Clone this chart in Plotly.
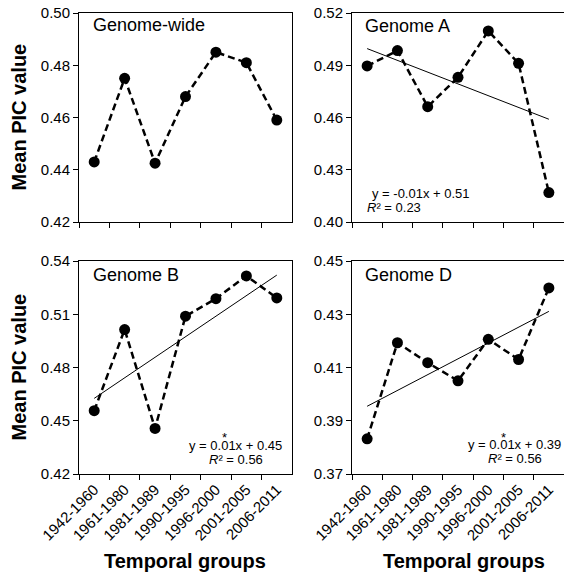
import numpy as np
import plotly.graph_objects as go

# ---- data ----
categories = ["1942-1960", "1961-1980", "1981-1989", "1990-1995",
              "1996-2000", "2001-2005", "2006-2011"]
genome_wide = [0.443, 0.475, 0.4425, 0.468, 0.485, 0.481, 0.459]
genome_a = [0.4896, 0.4984, 0.4662, 0.4831, 0.5097, 0.4911, 0.4169]
genome_b = [0.4557, 0.5014, 0.4457, 0.5089, 0.5188, 0.5316, 0.5192]
genome_d = [0.3832, 0.4193, 0.4118, 0.4050, 0.4206, 0.4130, 0.4399]

panel_titles = ["Genome-wide", "Genome A", "Genome B", "Genome D"]
y_ticks_wide = [0.42, 0.44, 0.46, 0.48, 0.50]
y_ticks_a = [0.40, 0.43, 0.46, 0.49, 0.52]
y_ticks_b = [0.42, 0.45, 0.48, 0.51, 0.54]
y_ticks_d = [0.37, 0.39, 0.41, 0.43, 0.45]
eq_a = ["y = -0.01x + 0.51", "<i>R</i>² = 0.23"]
eq_b = ["y = 0.01x + 0.45", "<i>R</i>² = 0.56"]
eq_d = ["y = 0.01x + 0.39", "<i>R</i>² = 0.56"]
y_title = "Mean PIC value"
x_title = "Temporal groups"

W, H = 564, 575
FONT = "Arial, Liberation Sans, Helvetica, sans-serif"

def px_x(p):
    return p / W

def px_y(p):
    return 1 - p / H

# panel pixel boxes: (left, right, top, bottom)
boxes = [(79, 292, 13, 222), (352, 564, 13, 222),
         (79, 292, 261, 474), (352, 564, 261, 474)]
series = [genome_wide, genome_a, genome_b, genome_d]
yticks = [y_ticks_wide, y_ticks_a, y_ticks_b, y_ticks_d]
trend = [False, True, True, True]

fig = go.Figure()
layout = dict(width=W, height=H,
              margin=dict(l=0, r=0, t=0, b=0, pad=0, autoexpand=False),
              paper_bgcolor="white", plot_bgcolor="white", showlegend=False,
              hovermode=False,
              font=dict(family=FONT, color="#000"))

xi = np.arange(1, len(categories) + 1)
for i, (vals, box, tv, tr) in enumerate(zip(series, boxes, yticks, trend)):
    n = "" if i == 0 else str(i + 1)
    xa, ya = "x" + n, "y" + n
    l, r, t, b = box
    layout["xaxis" + n] = dict(
        type="category", domain=[px_x(l), min(px_x(r), 1.0)], anchor=ya,
        range=[-0.5, len(categories) - 0.5], tickson="boundaries",
        ticks="outside", ticklen=5, tickcolor="black", tickwidth=1,
        showline=True, linecolor="black", linewidth=1, mirror=True,
        showgrid=False, zeroline=False, tickangle=-45, automargin=False,
        showticklabels=(i >= 2),
        tickfont=dict(size=15, family=FONT, color="#000"))
    layout["yaxis" + n] = dict(
        domain=[px_y(b), px_y(t)], anchor=xa, range=[tv[0], tv[-1]],
        tickvals=tv, ticktext=[f"{v:.2f}" for v in tv],
        ticks="outside", ticklen=5, tickcolor="black", tickwidth=1,
        showline=True, linecolor="black", linewidth=1, mirror=True,
        showgrid=False, zeroline=False, automargin=False,
        tickfont=dict(size=15, family=FONT, color="#000"))
    fig.add_trace(go.Scatter(
        x=categories, y=vals, xaxis=xa, yaxis=ya, mode="lines+markers",
        line=dict(color="black", width=2.5, dash="7px,4px"),
        marker=dict(color="black", size=11), hoverinfo="skip", cliponaxis=False))
    if tr:
        slope, inter = np.polyfit(xi, vals, 1)
        fig.add_trace(go.Scatter(
            x=[categories[0], categories[-1]],
            y=[slope * xi[0] + inter, slope * xi[-1] + inter],
            xaxis=xa, yaxis=ya, mode="lines",
            line=dict(color="black", width=1), hoverinfo="skip"))

ann = []
def text(x, y, s, size, xanchor="left", bold=False, angle=0):
    ann.append(dict(xref="paper", yref="paper", x=px_x(x), y=px_y(y),
                    text=("<b>%s</b>" % s) if bold else s, showarrow=False,
                    xanchor=xanchor, yanchor="middle", textangle=angle,
                    font=dict(size=size, family=FONT, color="#000")))

# panel titles
text(91, 25, panel_titles[0], 18)
text(363, 26, panel_titles[1], 18)
text(91, 275, panel_titles[2], 18)
text(363, 275, panel_titles[3], 18)

# equations
text(370, 193, eq_a[0], 13)
text(365, 207, eq_a[1], 13)
text(235, 445, eq_b[0], 13, "center")
text(236, 459, eq_b[1], 13, "center")
text(224, 437, "*", 13, "center")
text(514, 444, eq_d[0], 13, "center")
text(515, 458, eq_d[1], 13, "center")
text(503, 437, "*", 13, "center")

# axis titles
text(18, 117.5, y_title, 20, "center", True, -90)
text(18, 367.5, y_title, 20, "center", True, -90)
text(184.5, 561, x_title, 20, "center", True)
text(463.5, 561, x_title, 20, "center", True)

layout["annotations"] = ann
fig.update_layout(**layout)
fig.write_html("out.html",
               config={"displayModeBar": False, "staticPlot": True},
               post_script="document.body.style.margin='0px';"
                           "document.body.style.overflow='hidden';")
